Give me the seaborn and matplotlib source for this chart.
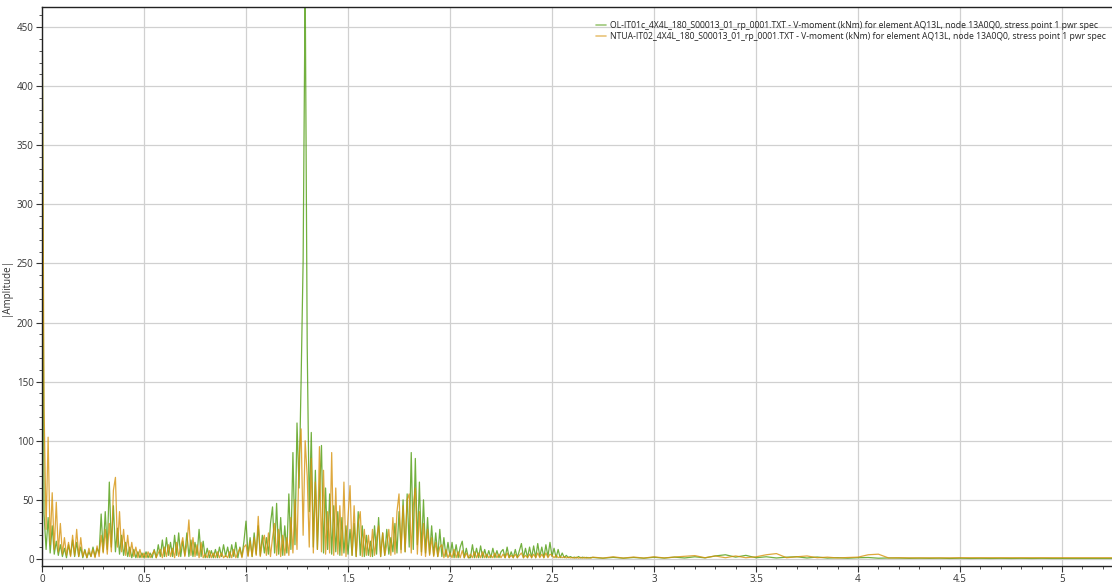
import numpy as np
import pandas as pd
import matplotlib
matplotlib.use("Agg")
import matplotlib.pyplot as plt
import seaborn as sns
from matplotlib.ticker import MultipleLocator, FuncFormatter

# Spectrum sampled every 0.01 Hz from 0.00 to 2.69 Hz, one row per 0.1 Hz
freq_low = [round(i * 0.01, 2) for i in range(270)]
ol_low = [
    520, 38, 8, 35, 5, 28, 4, 15, 3, 12,
    2, 9, 1, 12, 3, 16, 2, 14, 2, 10,
    1, 8, 1, 6, 2, 10, 2, 9, 5, 38,
    6, 40, 8, 65, 10, 45, 6, 26, 4, 20,
    3, 14, 2, 10, 1, 8, 1, 6, 1, 5,
    1, 6, 1, 5, 1, 8, 1, 12, 2, 16,
    2, 18, 3, 14, 2, 20, 3, 22, 2, 15,
    3, 22, 2, 16, 2, 14, 3, 25, 2, 15,
    1, 9, 1, 7, 1, 8, 1, 10, 2, 12,
    2, 10, 1, 12, 2, 14, 1, 10, 2, 15,
    32, 3, 18, 2, 22, 4, 28, 3, 20, 5,
    18, 4, 30, 44, 5, 47, 4, 35, 3, 28,
    5, 55, 8, 90, 12, 115, 60, 150, 252, 490,
    180, 40, 107, 10, 75, 8, 55, 96, 5, 60,
    8, 55, 4, 45, 6, 40, 3, 35, 5, 28,
    4, 25, 3, 30, 2, 40, 3, 28, 2, 20,
    3, 15, 2, 28, 4, 35, 2, 22, 3, 25,
    4, 18, 6, 30, 5, 40, 8, 50, 6, 55,
    10, 90, 8, 85, 12, 65, 6, 50, 5, 35,
    4, 28, 3, 22, 2, 25, 2, 18, 2, 14,
    2, 14, 1, 12, 1, 10, 15, 1, 9, 1,
    1, 12, 1, 9, 1, 11, 1, 8, 1, 7,
    1, 9, 1, 7, 1, 6, 8, 1, 10, 1,
    6, 1, 8, 1, 7, 13, 1, 9, 1, 10,
    1, 11, 1, 13, 2, 10, 1, 12, 2, 14,
    2, 9, 1, 8, 1, 5, 1, 3, 1, 2,
    1, 1.5, 0.8, 2, 0.8, 1.5, 0.8, 1.3, 0.8, 1.2,
]
ntua_low = [
    500, 130, 25, 103, 12, 56, 8, 48, 6, 30,
    4, 18, 3, 14, 2, 20, 3, 25, 2, 18,
    2, 7, 1, 9, 2, 8, 1, 11, 2, 20,
    5, 25, 4, 30, 6, 58, 69, 10, 40, 6,
    25, 3, 20, 2, 14, 2, 10, 1, 8, 1,
    5, 1, 6, 1, 4, 7, 1, 5, 8, 1,
    10, 2, 12, 2, 9, 1, 14, 2, 10, 18,
    2, 12, 33, 3, 18, 2, 12, 1, 14, 1,
    4, 1, 7, 1, 5, 1, 6, 1, 5, 1,
    3, 1, 6, 1, 8, 1, 5, 9, 1, 10,
    12, 2, 15, 2, 18, 3, 36, 2, 14, 20,
    3, 22, 2, 18, 30, 3, 25, 2, 20, 3,
    18, 3, 35, 5, 50, 8, 85, 110, 20, 100,
    70, 10, 85, 5, 65, 8, 95, 6, 75, 4,
    40, 5, 90, 3, 60, 4, 45, 3, 65, 2,
    35, 62, 3, 45, 2, 30, 40, 2, 25, 3,
    20, 2, 25, 3, 18, 28, 2, 22, 3, 12,
    25, 3, 35, 4, 40, 55, 5, 45, 6, 50,
    55, 5, 45, 60, 4, 40, 3, 30, 2, 25,
    3, 18, 2, 14, 2, 10, 12, 1, 8, 1,
    5, 1, 8, 1, 6, 1, 7, 1, 5, 1,
    4, 1, 6, 1, 5, 1, 6, 1, 4, 1,
    3, 1, 5, 1, 4, 1, 4, 1, 5, 1,
    3, 1, 4, 1, 3, 5, 1, 3, 1, 4,
    1, 4, 1, 5, 1, 4, 1, 5, 1, 4,
    3, 1, 3, 1, 2, 1, 2, 0.8, 1.5, 0.8,
    1.2, 0.6, 1.5, 0.6, 1.3, 0.6, 1.4, 0.6, 1.2, 0.6,
]

# High-frequency tail, every 0.05 Hz from 2.70 to 5.25 Hz
freq_high = [round(2.70 + i * 0.05, 2) for i in range(52)]
ol_high = [
    1.2, 0.6, 1.3, 0.6, 1.2, 0.6, 1.4, 0.7, 1.5, 0.8,
    1.8, 0.9, 2.5, 3.5, 1.5, 3.0, 1.0, 1.8, 0.8, 1.5,
    1.8, 0.8, 1.6, 0.7, 1.0, 0.6, 1.0, 1.2, 0.6, 0.8,
    0.7, 0.5, 0.6, 0.5, 0.6, 0.4, 0.6, 0.4, 0.5, 0.4,
    0.5, 0.4, 0.5, 0.4, 0.5, 0.4, 0.4, 0.4, 0.4, 0.4,
    0.4, 0.4,
]
ntua_high = [
    1.5, 0.7, 1.8, 0.7, 1.6, 0.7, 1.8, 0.8, 1.6, 2.2,
    2.8, 1.0, 2.5, 1.0, 2.5, 1.0, 1.8, 3.5, 4.5, 1.0,
    1.8, 2.5, 1.0, 1.5, 0.8, 1.2, 1.5, 3.5, 4.0, 0.8,
    1.0, 0.9, 0.9, 0.9, 0.9, 0.9, 1.0, 1.0, 1.0, 1.0,
    1.0, 1.0, 1.0, 1.0, 1.0, 1.0, 1.0, 1.0, 1.0, 1.0,
    1.0, 1.0,
]

series_names = [
    "OL-IT01c_4X4L_180_S00013_01_rp_0001.TXT - V-moment (kNm) for element AQ13L, node 13A0Q0, stress point 1 pwr spec",
    "NTUA-IT02_4X4L_180_S00013_01_rp_0001.TXT - V-moment (kNm) for element AQ13L, node 13A0Q0, stress point 1 pwr spec",
]
series_colors = ["#4f9c0e", "#d6930c"]

freq = freq_low + freq_high
df = pd.concat([
    pd.DataFrame({"freq": freq, "amp": ol_low + ol_high, "series": series_names[0]}),
    pd.DataFrame({"freq": freq, "amp": ntua_low + ntua_high, "series": series_names[1]}),
], ignore_index=True)

sns.set_style("white")
plt.rcParams["font.family"] = ["Open Sans", "DejaVu Sans"]

fig = plt.figure(figsize=(11.12, 5.86), dpi=100)
ax = fig.add_axes([42 / 1112, 20 / 586, 1 - 42 / 1112, (566 - 7) / 586])

sns.lineplot(
    data=df, x="freq", y="amp", hue="series",
    palette=dict(zip(series_names, series_colors)),
    linewidth=0.9, alpha=0.8, ax=ax, estimator=None, sort=False,
)

ax.set_xlim(0, 5.245)
ax.set_ylim(-6, 467)
ax.xaxis.set_major_locator(MultipleLocator(0.5))
ax.xaxis.set_minor_locator(MultipleLocator(0.1))
ax.yaxis.set_major_locator(MultipleLocator(50))
ax.yaxis.set_minor_locator(MultipleLocator(10))
ax.xaxis.set_major_formatter(FuncFormatter(lambda v, p: f"{v:g}"))

ax.grid(True, which="major", color="#d0d0d0", linewidth=0.9)
ax.set_axisbelow(True)
ax.tick_params(which="major", direction="out", length=4, width=0.8,
               color="#333333", labelsize=7, labelcolor="#333333", pad=2,
               bottom=True, left=True)
ax.tick_params(which="minor", direction="out", length=2.5, width=0.6,
               color="#333333", bottom=True, left=True)
for side in ("left", "bottom", "top"):
    ax.spines[side].set_color("#222222")
    ax.spines[side].set_linewidth(1.0)
ax.spines["right"].set_visible(False)

ax.set_xlabel("")
ax.set_ylabel("|Amplitude|", fontsize=7, color="#333333", labelpad=4)

leg = ax.legend(loc="upper right", bbox_to_anchor=(0.999, 0.985), frameon=False,
                fontsize=6.25, handlelength=1.2, handletextpad=0.4,
                labelspacing=0.3, borderaxespad=0.2)
for line in leg.get_lines():
    line.set_linewidth(1.2)
    line.set_alpha(0.55)
for t in leg.get_texts():
    t.set_color("#222222")

fig.savefig("out.png", dpi=100)
